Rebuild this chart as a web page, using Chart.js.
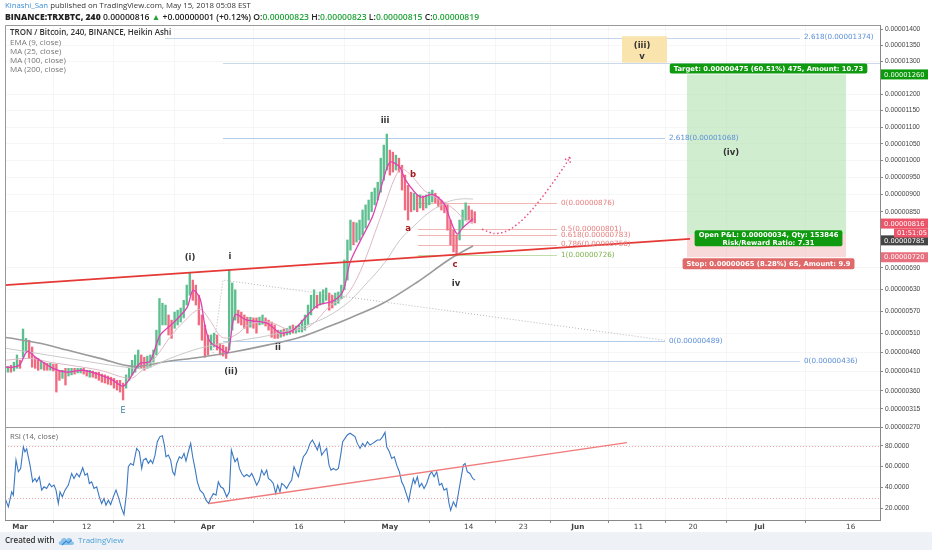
<!DOCTYPE html>
<html>
<head>
<meta charset="utf-8">
<script src="https://cdn.jsdelivr.net/npm/chart.js@4.4.1/dist/chart.umd.min.js"></script>
<style>
  html, body { margin: 0; padding: 0; background: #fff; }
  #wrap { position: relative; width: 932px; height: 550px; overflow: hidden; font-family: "Open Sans", sans-serif; }
  #c { position: absolute; left: 0; top: 0; width: 932px; height: 532px; }
  .t { position: absolute; white-space: nowrap; line-height: 1; }
  .blue { color: #3d8fd6; }
  .g { color: #22a33a; }
  #hdr1 { left: 5px; top: 2px; font-size: 7.8px; color: #333; }
  #hdr2 { left: 5px; top: 13px; font-size: 8.6px; font-weight: 600; color: #222; }
  .leg { left: 10px; font-size: 8px; color: #777; }
  #rsiLbl { left: 10px; top: 433px; font-size: 7.6px; color: #666; }
  #foot { position: absolute; left: 0; top: 532px; width: 932px; height: 18px; background: #eef2f6; }
  #foot span { position: absolute; top: 4px; font-size: 8px; line-height: 1; }
</style>
</head>
<body>
<div id="wrap">
  <canvas id="c" width="932" height="532"></canvas>
  <div class="t" id="hdr1"><span class="blue">Kinashi_San</span> published on TradingView.com, May 15, 2018 05:08 EST</div>
  <div class="t" id="hdr2"><b>BINANCE:TRXBTC, 240</b> 0.00000816 <span class="g">▲</span> +0.00000001 (+0.12%) O:<span class="g">0.00000823</span> H:<span class="g">0.00000823</span> L:<span class="g">0.00000815</span> C:<span class="g">0.00000819</span></div>
  <div class="t leg" style="top:28px;color:#333;font-weight:600">TRON / Bitcoin, 240, BINANCE, Heikin Ashi</div>
  <div class="t leg" style="top:38px">EMA (9, close)</div>
  <div class="t leg" style="top:47px">MA (25, close)</div>
  <div class="t leg" style="top:56px">MA (100, close)</div>
  <div class="t leg" style="top:65px">MA (200, close)</div>
  <div class="t" id="rsiLbl">RSI (14, close)</div>
  <div id="foot">
    <span style="left:5px;color:#333;font-weight:600">Created with</span>
    <svg style="position:absolute;left:58px;top:4px" width="17" height="10" viewBox="0 0 17 10">
      <path d="M3 9 C0 9 0 5 3 5 C3 2 7 1 8.5 3.5 C10 1 15 2 14 5.5 C17 6 16.5 9 14 9 Z" fill="#8cc3ea"/>
      <path d="M4 9 L8 5 L10.5 7 L13.5 4" stroke="#3d8fd6" stroke-width="1.2" fill="none"/>
    </svg>
    <span style="left:78px;color:#4ba0d9">TradingView</span>
  </div>
</div>
<script>
// prices are in satoshi (1e-8 BTC); time is in days since 1 March 2018
const barStartDay = -2.5;
const barStepDays = 0.5;

const candleLow = [
  406, 408, 408, 411, 418, 418, 447, 461, 444, 421,
  418, 413, 416, 413, 413, 413, 411, 357, 387, 392,
  375, 398, 401, 403, 406, 406, 403, 398, 395, 395,
  392, 387, 382, 380, 377, 375, 367, 362, 357, 337,
  367, 387, 401, 408, 418, 418, 413, 418, 421, 434,
  453, 479, 533, 533, 506, 497, 524, 533, 541, 552,
  587, 614, 600, 587, 533, 492, 447, 453, 466, 474,
  466, 453, 450, 444, 466, 519, 546, 538, 533, 524,
  511, 527, 524, 511, 533, 535, 530, 519, 500, 497,
  497, 500, 503, 506, 508, 511, 511, 514, 514, 519,
  533, 560, 579, 579, 587, 590, 600, 573, 579, 587,
  592, 605, 629, 656, 740, 755, 763, 769, 783, 803,
  826, 850, 870, 884, 907, 942, 972, 957, 966, 972,
  966, 913, 855, 826, 850, 855, 850, 861, 855, 861,
  870, 878, 876, 864, 855, 847, 797, 755, 735, 724,
  769, 803, 826, 826, 820, 818
];
const candleHigh = [
  421, 423, 426, 434, 453, 439, 522, 497, 492, 474,
  447, 444, 439, 434, 431, 431, 429, 429, 413, 413,
  418, 418, 418, 418, 418, 418, 418, 413, 413, 411,
  408, 408, 403, 401, 398, 395, 392, 387, 387, 380,
  401, 418, 439, 453, 466, 453, 447, 450, 453, 466,
  519, 605, 592, 587, 560, 546, 568, 573, 579, 600,
  642, 676, 656, 642, 614, 560, 533, 506, 506, 511,
  506, 484, 479, 474, 684, 648, 629, 573, 568, 560,
  554, 554, 552, 552, 554, 560, 552, 546, 541, 533,
  519, 519, 522, 524, 530, 533, 530, 533, 546, 560,
  587, 614, 629, 614, 623, 629, 634, 620, 614, 620,
  623, 642, 712, 769, 826, 820, 818, 826, 855, 870,
  884, 907, 919, 936, 1007, 1046, 1079, 1031, 1025, 1016,
  1007, 986, 957, 927, 907, 904, 899, 899, 896, 899,
  907, 913, 904, 893, 884, 878, 870, 826, 797, 783,
  826, 855, 876, 867, 855, 850
];
// 1 = green (rising) Heikin Ashi candle, 0 = red
const candleUp = [
  0, 1, 0, 1, 1, 0, 1, 1, 0, 0,
  0, 0, 1, 0, 0, 1, 0, 0, 0, 1,
  0, 1, 1, 0, 1, 1, 0, 0, 1, 0,
  0, 0, 0, 0, 0, 0, 0, 0, 0, 0,
  1, 1, 1, 1, 1, 0, 0, 1, 1, 1,
  1, 1, 1, 1, 0, 0, 1, 1, 1, 1,
  1, 1, 0, 0, 0, 0, 0, 0, 1, 1,
  0, 0, 0, 0, 1, 1, 1, 0, 0, 0,
  0, 1, 0, 0, 1, 1, 0, 0, 0, 0,
  0, 1, 0, 1, 1, 0, 1, 1, 1, 1,
  1, 1, 1, 0, 1, 1, 1, 0, 0, 1,
  1, 1, 1, 1, 1, 0, 1, 1, 1, 1,
  1, 1, 1, 1, 1, 1, 1, 0, 0, 1,
  0, 0, 0, 0, 0, 1, 0, 1, 0, 1,
  1, 1, 0, 0, 0, 0, 0, 0, 0, 0,
  1, 1, 1, 0, 0, 0
];

const emaDays = [-2.47, -1.15, 0, 1.2, 2.8, 5.44, 7.75, 10.39, 13.19, 15.34, 17.0, 18.14, 19.79, 21.44, 23.09,
  25.24, 27.54, 28.53, 29.69, 30.51, 31.34, 32.99, 34.3, 35.46, 37.44, 40.74, 42.88, 45.03, 48.99, 51.62,
  53.27, 54.43, 56.08, 58.22, 59.87, 61.03, 62.68, 63.5, 65.97, 68.12, 70.0, 70.9, 72.1, 73.07, 74.72];
const emaValues = [421, 421, 428, 462, 444, 418, 408, 413, 401, 387, 372, 392, 431, 436, 505,
  538, 580, 628, 605, 530, 488, 470, 460, 560, 546, 538, 512, 519, 585, 598,
  625, 705, 765, 840, 940, 995, 980, 945, 893, 900, 872, 830, 786, 805, 830];

const ma25Days = [-2.47, 1.65, 4.95, 8.25, 13.19, 18.14, 19.79, 22.27, 24.74, 27.21, 29.69, 31.34, 33.32, 35.46,
  37.94, 41.23, 44.53, 47.83, 51.13, 53.6, 55.25, 56.9, 58.55, 60.2, 61.85, 63.0, 64.82, 66.8, 69.27, 71.75, 73.4, 74.72];
const ma25Values = [439, 444, 434, 426, 413, 392, 408, 445, 500, 545, 575, 545, 500, 505,
  535, 540, 520, 530, 585, 610, 650, 712, 790, 870, 950, 975, 950, 910, 885, 855, 825, 815];

const ma100Days = [-2.47, 3.3, 9.9, 16.49, 20.62, 24.74, 29.69, 35.13, 39.58, 44.53, 49.48, 53.6, 56.9, 60.2,
  62.68, 65.15, 67.62, 70.43, 72.57, 74.72];
const ma100Values = [471, 456, 439, 423, 418, 444, 471, 489, 500, 519, 546, 587, 642, 706,
  769, 812, 850, 878, 887, 887];

const ma200Days = [-2.47, 3.3, 7.75, 13.19, 18.64, 24.25, 29.69, 35.13, 40.74, 46.18, 51.13, 54.43, 59.87, 65.48, 70.92, 74.72];
const ma200Values = [500, 484, 466, 444, 423, 436, 447, 461, 479, 500, 530, 552, 592, 650, 715, 752];

const rsiDays = [
  -2.64, -1.92, -1.37, -1.10, -0.66, -0.27, 0.11, 0.55, 0.82, 1.10,
  1.65, 2.09, 2.47, 2.75, 3.19, 3.57, 3.96, 4.40, 4.84, 5.22,
  5.61, 5.94, 6.32, 6.60, 6.98, 7.42, 7.97, 8.52, 8.91, 9.35,
  9.79, 10.34, 10.72, 11.11, 11.44, 11.82, 12.21, 12.65, 13.08, 13.47,
  13.85, 14.18, 14.57, 14.95, 15.39, 15.83, 16.22, 16.77, 17.15, 17.59,
  17.87, 18.25, 18.69, 19.24, 19.68, 20.07, 20.34, 20.78, 21.17, 21.55,
  21.88, 22.27, 22.65, 23.09, 23.48, 23.81, 24.08, 24.47, 24.85, 25.18,
  25.51, 25.84, 26.28, 26.67, 27.05, 27.38, 27.76, 28.15, 28.48, 28.86,
  29.25, 29.69, 30.24, 30.68, 31.12, 31.45, 31.89, 32.33, 32.71, 33.10,
  33.54, 34.09, 34.53, 34.86, 35.19, 35.46, 35.85, 36.18, 36.56, 36.95,
  37.39, 37.83, 38.21, 38.60, 39.04, 39.47, 39.86, 40.25, 40.69, 40.96,
  41.34, 41.78, 42.17, 42.50, 42.88, 43.16, 43.54, 43.98, 44.42, 44.81,
  45.19, 45.52, 45.91, 46.29, 46.73, 47.17, 47.56, 47.83, 48.22, 48.66,
  49.04, 49.37, 49.76, 50.14, 50.58, 50.97, 51.30, 51.68, 52.12, 52.51,
  52.89, 53.22, 53.60, 53.99, 54.43, 54.87, 55.25, 55.64, 56.08, 56.52,
  56.90, 57.29, 57.73, 58.17, 58.55, 58.94, 59.38, 59.82, 60.20, 60.48,
  60.92, 61.30, 61.74, 62.13, 62.57, 62.95, 63.34, 63.78, 64.11, 64.44,
  64.88, 65.15, 65.54, 65.87, 66.25, 66.64, 67.08, 67.52, 67.90, 68.29,
  68.73, 69.17, 69.55, 69.94, 70.38, 70.76, 71.03, 71.47, 71.91, 72.30,
  72.68, 73.12, 73.40, 73.78, 74.22, 74.66, 75.05
];
const rsiValues = [
  32.6, 21.4, 35.8, 32.6, 66.2, 55, 58, 79, 74, 77,
  61.4, 45.4, 48.6, 45.4, 50, 37.4, 40.6, 39, 43.8, 40.6,
  42.2, 37.4, 24.6, 35.8, 31, 37.4, 42.2, 53.4, 48.6, 53.4,
  50.2, 58.8, 51.8, 53.4, 43.8, 45.4, 39, 40.6, 31, 24.6,
  29.4, 23, 27.8, 23.6, 31, 37.4, 31, 19.7, 14, 35.8,
  59.8, 63, 61.4, 77.4, 74.2, 58.2, 66.2, 67.8, 63, 66.2,
  63, 71, 83.8, 88.7, 89.6, 80.6, 69.4, 71, 66.2, 55,
  51.8, 63, 69.4, 67.8, 72.6, 65.3, 74.2, 82.2, 69.4, 58.2,
  45.4, 37.4, 34.2, 27.8, 24.6, 29.4, 34.2, 32.6, 45.4, 40.6,
  39, 31, 35.8, 75.8, 69.4, 64.6, 67.8, 58.2, 53.4, 50.2,
  52.4, 50.2, 53.4, 48.6, 42.2, 47, 56.6, 51.8, 56.6, 48.6,
  47, 43.8, 34.2, 42.2, 35.8, 43.8, 42.2, 39, 43.8, 47,
  59.8, 55, 50.2, 59.8, 69.4, 72.6, 77.4, 82.2, 85.4, 80.6,
  75.8, 82.2, 71, 74.2, 77.4, 61.4, 56.6, 58.2, 56.6, 58.2,
  71, 83.8, 87, 90.3, 91.9, 90.3, 88.7, 82.2, 77.4, 82.2,
  79, 83.8, 80.6, 82.2, 83.8, 85.4, 85.4, 88.7, 92.8, 79,
  74.2, 67.8, 69.4, 61.4, 55, 45.4, 40.6, 32.6, 26.8, 37.4,
  48.6, 43.8, 50.2, 40.6, 43.8, 39, 43.8, 51.8, 55, 50.2,
  55, 42.2, 43.8, 37.4, 39, 24.6, 18.1, 26.2, 21.4, 34.2,
  47, 61.4, 63, 55, 53.4, 48.6, 47
];

const tickDays = [0, 11, 20, 31, 46, 61, 74, 83, 92, 102, 111, 122, 137];
const tickLabels = ['Mar', '12', '21', 'Apr', '16', 'May', '14', '23', 'Jun', '11', '20', 'Jul', '16'];
const priceTicks = [1400, 1350, 1300, 1200, 1150, 1100, 1050, 1000, 950, 900, 850, 690, 630, 570, 510, 460, 410, 360, 315, 270];
const rsiTicks = [20, 40, 60, 80];

// drawings on the chart (day, price)
const trendLine = [[-2.47, 642], [110.5, 772]];
const guideLine = [[31.83, 458], [33.48, 656], [106.38, 492]];
const rsiTrend = [[31.2, 24.6], [100.1, 82.9]];
const arrowDays = [76.2, 77.5, 78.8, 80.8, 83.3, 85.8, 88.2, 89.9, 90.7];
const arrowPrices = [800, 789, 786, 797, 832, 884, 942, 986, 1010];
const fibs = [
  {from: 33.48, to: 106.38, levels: [[2.618, 1068], [0, 489]], line: '#b4cdea', text: '#5b8fd6'},
  {from: 23.92, to: 128.65, levels: [[2.618, 1374], [0, 436]], line: '#c3d6ec', text: '#5b8fd6'},
  {from: 65.64, to: 88.57, levels: [[0, 876], [0.5, 801], [0.618, 783], [0.786, 756]], line: '#f3b4b4', text: '#e57d7d'},
  {from: 65.64, to: 88.57, levels: [[1, 726]], line: '#c2dcaa', text: '#7cb14c'}
];
const position = {from: 110.01, to: 136.24, entry: 785, target: 1260, stop: 720};
const waveBox = {from: 99.29, to: 106.71, top: 1378, bottom: 1296};
const waveLabels = [
  ['iii', 60.2, 1118, 'k'], ['b', 64.82, 957, 'r'], ['a', 64.0, 800, 'r'], ['c', 71.74, 698, 'r'],
  ['iv', 71.91, 645, 'k'], ['(i)', 28.04, 718, 'k'], ['i', 34.64, 721, 'k'], ['(ii)', 34.8, 408, 'k'],
  ['ii', 42.55, 471, 'k'], ['E', 16.99, 310, 'e'], ['(iv)', 117.27, 1022, 'k'],
  ['(iii)', 102.6, 1347, 'k'], ['v', 102.6, 1313, 'k']
];

// price axis with a mild power curve, as on the source chart
const POW = 0.85;
class PowScale extends Chart.LinearScale {
  getPixelForValue(value) {
    if (value === null || isNaN(value)) return NaN;
    const a = Math.pow(this.min, POW), b = Math.pow(this.max, POW);
    return this.getPixelForDecimal((Math.pow(Math.max(value, 0), POW) - a) / (b - a));
  }
  getValueForPixel(pixel) {
    const a = Math.pow(this.min, POW), b = Math.pow(this.max, POW);
    return Math.pow(a + this.getDecimalForPixel(pixel) * (b - a), 1 / POW);
  }
}
PowScale.id = 'pow';
PowScale.defaults = Chart.LinearScale.defaults;
Chart.register(PowScale);

const sat = v => (v / 1e8).toFixed(8);
const pts = (xs, ys) => xs.map((d, i) => ({x: d, y: ys[i]}));

const overlay = {
  id: 'overlay',
  beforeDatasetsDraw(chart) {
    const {ctx, chartArea: a, scales: {x, y, yr}} = chart;
    const px = d => x.getPixelForValue(d), py = p => y.getPixelForValue(p);
    ctx.save();
    ctx.beginPath();
    ctx.rect(a.left, y.top, a.right - a.left, y.bottom - y.top);
    ctx.clip();

    const x0 = px(position.from), x1 = px(position.to);
    const yT = py(position.target), yE = py(position.entry), yS = py(position.stop);
    ctx.fillStyle = 'rgba(150,215,150,0.45)';
    ctx.fillRect(x0, yT, x1 - x0, yE - yT);
    ctx.fillStyle = 'rgba(235,150,150,0.35)';
    ctx.fillRect(x0, yE, x1 - x0, yS - yE);

    ctx.lineWidth = 1;
    fibs.forEach(f => {
      ctx.strokeStyle = f.line;
      f.levels.forEach(([lvl, p]) => {
        const yy = Math.round(py(p)) + 0.5;
        ctx.beginPath();
        ctx.moveTo(px(f.from), yy);
        ctx.lineTo(px(f.to), yy);
        ctx.stroke();
      });
    });
    // horizontal ray under the wave box
    ctx.strokeStyle = '#c9d8ea';
    const yb = Math.round(py(waveBox.bottom)) + 0.5;
    ctx.beginPath();
    ctx.moveTo(px(33.48), yb);
    ctx.lineTo(a.right, yb);
    ctx.stroke();

    ctx.fillStyle = '#f9e4ae';
    ctx.fillRect(px(waveBox.from), py(waveBox.top), px(waveBox.to) - px(waveBox.from), py(waveBox.bottom) - py(waveBox.top));
    ctx.restore();

    // RSI bands
    ctx.save();
    ctx.strokeStyle = '#f2a3a3';
    ctx.setLineDash([1, 2]);
    [80, 30].forEach(v => {
      const yy = Math.round(yr.getPixelForValue(v)) + 0.5;
      ctx.beginPath();
      ctx.moveTo(a.left, yy);
      ctx.lineTo(a.right, yy);
      ctx.stroke();
    });
    ctx.restore();
  },
  afterDatasetsDraw(chart) {
    const {ctx, chartArea: a, scales: {x, y, yr}} = chart;
    const px = d => x.getPixelForValue(d), py = p => y.getPixelForValue(p);
    ctx.save();
    ctx.beginPath();
    ctx.rect(a.left, y.top, a.right - a.left, y.bottom - y.top);
    ctx.clip();

    // dotted guide of the fib extension
    ctx.strokeStyle = '#b5b5b5';
    ctx.lineWidth = 1;
    ctx.setLineDash([1, 2]);
    ctx.beginPath();
    guideLine.forEach(([d, p], i) => i ? ctx.lineTo(px(d), py(p)) : ctx.moveTo(px(d), py(p)));
    ctx.stroke();

    // projected path
    ctx.strokeStyle = '#e8508a';
    ctx.lineWidth = 1.5;
    ctx.setLineDash([1.5, 2.5]);
    const ap = arrowDays.map((d, i) => [px(d), py(arrowPrices[i])]);
    ctx.beginPath();
    ctx.moveTo(ap[0][0], ap[0][1]);
    for (let i = 1; i < ap.length - 1; i++) {
      ctx.quadraticCurveTo(ap[i][0], ap[i][1], (ap[i][0] + ap[i + 1][0]) / 2, (ap[i][1] + ap[i + 1][1]) / 2);
    }
    const last = ap[ap.length - 1], prev = ap[ap.length - 2];
    ctx.lineTo(last[0], last[1]);
    const ang = Math.atan2(last[1] - prev[1], last[0] - prev[0]);
    [-0.6, 0.6].forEach(o => {
      ctx.moveTo(last[0], last[1]);
      ctx.lineTo(last[0] - 7 * Math.cos(ang + o), last[1] - 7 * Math.sin(ang + o));
    });
    ctx.stroke();

    // main trend line
    ctx.setLineDash([]);
    ctx.strokeStyle = '#e53935';
    ctx.lineWidth = 1.6;
    ctx.beginPath();
    ctx.moveTo(px(trendLine[0][0]), py(trendLine[0][1]));
    ctx.lineTo(px(trendLine[1][0]), py(trendLine[1][1]));
    ctx.stroke();

    // fib labels
    ctx.textBaseline = 'middle';
    ctx.textAlign = 'left';
    ctx.font = '7.2px "DejaVu Sans"';
    fibs.forEach(f => {
      ctx.fillStyle = f.text;
      f.levels.forEach(([lvl, p]) => ctx.fillText(lvl + '(' + sat(p) + ')', px(f.to) + 4, py(p)));
    });

    // wave labels
    ctx.textAlign = 'center';
    const styles = {
      k: ['bold 8.5px "DejaVu Sans"', '#333'],
      r: ['bold 8.5px "DejaVu Sans"', '#a51d1d'],
      e: ['8px "DejaVu Sans"', '#3a7fa0']
    };
    waveLabels.forEach(([t, d, p, s]) => {
      ctx.font = styles[s][0];
      ctx.fillStyle = styles[s][1];
      ctx.fillText(t, px(d), py(p));
    });

    // position tool labels
    const cx = (px(position.from) + px(position.to)) / 2 + 2;
    const yT = py(position.target), yE = py(position.entry), yS = py(position.stop);
    ctx.font = 'bold 6.8px "DejaVu Sans"';
    const box = (lines, top, h, color) => {
      const w = Math.max(...lines.map(l => ctx.measureText(l).width)) + 8;
      ctx.fillStyle = color;
      ctx.beginPath();
      ctx.roundRect(cx - w / 2, top, w, h, 2);
      ctx.fill();
      ctx.fillStyle = '#fff';
      lines.forEach((l, i) => ctx.fillText(l, cx, top + (i + 0.5) * h / lines.length + 0.5));
    };
    box(['Target: 0.00000475 (60.51%) 475, Amount: 10.73'], yT - 11, 10, '#109a10');
    box(['Open P&L: 0.00000034, Qty: 153846', 'Risk/Reward Ratio: 7.31'], yE - 4, 16, '#0f9a0f');
    box(['Stop: 0.00000065 (8.28%) 65, Amount: 9.9'], yS + 1, 11, '#e06a6a');
    ctx.restore();

    // RSI trend line
    ctx.save();
    ctx.beginPath();
    ctx.rect(a.left, yr.top, a.right - a.left, yr.bottom - yr.top);
    ctx.clip();
    ctx.strokeStyle = '#f07b7b';
    ctx.lineWidth = 1.3;
    ctx.beginPath();
    ctx.moveTo(px(rsiTrend[0][0]), yr.getPixelForValue(rsiTrend[0][1]));
    ctx.lineTo(px(rsiTrend[1][0]), yr.getPixelForValue(rsiTrend[1][1]));
    ctx.stroke();
    ctx.restore();
  },
  afterDraw(chart) {
    const {ctx, chartArea: a, scales: {y}} = chart;
    ctx.save();
    ctx.strokeStyle = '#999';
    ctx.lineWidth = 1;
    ctx.beginPath();
    ctx.moveTo(a.left + 0.5, a.bottom);
    ctx.lineTo(a.left + 0.5, a.top + 0.5);
    ctx.lineTo(a.right, a.top + 0.5);
    ctx.moveTo(a.left, Math.round(y.bottom) + 0.5);
    ctx.lineTo(a.right, Math.round(y.bottom) + 0.5);
    ctx.stroke();

    // price badges on the axis
    ctx.font = '6.7px "DejaVu Sans"';
    ctx.textBaseline = 'middle';
    ctx.textAlign = 'left';
    const badge = (p, shift, color) => {
      const yy = y.getPixelForValue(p) + shift;
      ctx.fillStyle = color;
      ctx.fillRect(a.right + 1, yy - 5, 47, 10);
      ctx.fillStyle = '#fff';
      ctx.fillText(sat(p), a.right + 4, yy + 0.5);
      return yy;
    };
    badge(1260, 0, '#0c9a0c');
    badge(720, 0, '#e8707e');
    badge(785, 6, '#454545');
    const yl = badge(816, 0, '#ec5569');
    ctx.fillStyle = '#ec5569';
    ctx.fillRect(a.right + 14, yl + 5, 34, 9);
    ctx.fillStyle = '#fff';
    ctx.fillText('01:51:05', a.right + 17, yl + 10);
    ctx.restore();
  }
};

const faint = 'rgba(0,0,0,0.035)';
new Chart(document.getElementById('c'), {
  type: 'bar',
  data: {
    datasets: [
      {
        type: 'bar', order: 5, yAxisID: 'y',
        data: candleLow.map((lo, i) => ({x: barStartDay + i * barStepDays, y: [lo, candleHigh[i]]})),
        backgroundColor: candleUp.map(u => u ? '#5dbf8f' : '#f06a80'),
        barThickness: 1.7, borderWidth: 0
      },
      {type: 'line', order: 4, yAxisID: 'y', data: pts(ma200Days, ma200Values), borderColor: '#9a9a9a', borderWidth: 1.6, pointRadius: 0, tension: 0.35},
      {type: 'line', order: 3, yAxisID: 'y', data: pts(ma100Days, ma100Values), borderColor: '#c9c9c9', borderWidth: 1, pointRadius: 0, tension: 0.35},
      {type: 'line', order: 2, yAxisID: 'y', data: pts(ma25Days, ma25Values), borderColor: '#dcb9c6', borderWidth: 1, pointRadius: 0, tension: 0.35},
      {type: 'line', order: 1, yAxisID: 'y', data: pts(emaDays, emaValues), borderColor: '#e040b0', borderWidth: 1.3, pointRadius: 0, tension: 0.3},
      {type: 'line', order: 0, yAxisID: 'yr', data: pts(rsiDays, rsiValues), borderColor: '#3b78c2', borderWidth: 1.1, pointRadius: 0, tension: 0}
    ]
  },
  options: {
    responsive: false,
    animation: false,
    layout: {padding: {left: 5, top: 25, right: 0, bottom: 0}},
    plugins: {legend: {display: false}, tooltip: {enabled: false}},
    scales: {
      x: {
        type: 'linear', min: -2.474, max: 141.84, offset: false,
        afterBuildTicks: s => { s.ticks = tickDays.map(v => ({value: v})); },
        afterFit: s => { s.height = 12; },
        ticks: {
          autoSkip: false, maxRotation: 0, padding: 0, color: '#444',
          callback: (v, i) => tickLabels[i],
          font: c => ({family: 'DejaVu Sans', size: 7.2, weight: /^[A-Z]/.test(tickLabels[c.index] || '') ? 'bold' : 'normal'})
        },
        grid: {color: faint, tickLength: 3, tickColor: '#888'},
        border: {color: '#888'}
      },
      y: {
        type: 'pow', position: 'right', stack: 'panes', stackWeight: 402, min: 270, max: 1413,
        afterBuildTicks: s => { s.ticks = priceTicks.map(v => ({value: v})); },
        afterFit: s => { s.width = 52; },
        ticks: {autoSkip: false, padding: 2, color: '#444', font: {size: 6.7}, callback: v => sat(v)},
        grid: {color: faint, tickLength: 3, tickColor: '#888'},
        border: {color: '#888'}
      },
      yr: {
        type: 'linear', position: 'right', stack: 'panes', stackWeight: 93, min: 8.8, max: 97.9,
        afterBuildTicks: s => { s.ticks = rsiTicks.map(v => ({value: v})); },
        afterFit: s => { s.width = 52; },
        ticks: {autoSkip: false, padding: 2, color: '#444', font: {size: 6.7}, callback: v => v.toFixed(4)},
        grid: {color: faint, tickLength: 3, tickColor: '#888'},
        border: {color: '#888'}
      }
    }
  },
  plugins: [overlay]
});
</script>
</body>
</html>
